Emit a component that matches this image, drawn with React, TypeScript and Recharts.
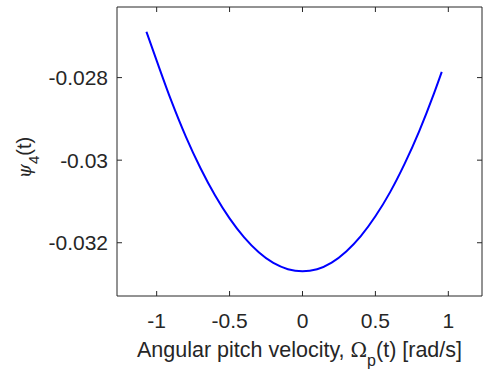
import React from 'react';
import { LineChart, Line, XAxis, YAxis, ReferenceLine } from 'recharts';

const omegaP = [-1.07, -1.0, -0.9, -0.8, -0.7, -0.6, -0.5, -0.4, -0.3, -0.2, -0.1, 0, 0.1, 0.2, 0.3, 0.4, 0.5, 0.6, 0.7, 0.8, 0.9, 0.955];
const psi4 = [-0.02689, -0.02759, -0.02856, -0.02943, -0.03019, -0.03085, -0.03141, -0.03187, -0.03223, -0.03249, -0.03264, -0.03269, -0.03264, -0.03248, -0.03221, -0.03184, -0.03136, -0.03078, -0.03009, -0.0293, -0.0284, -0.02786];
const xTicks = [-1, -0.5, 0, 0.5, 1];
const yTicks = [-0.032, -0.03, -0.028];
const xDomain = [-1.272, 1.231];
const yDomain = [-0.03329, -0.02629];

const data = omegaP.map((x, i) => ({ x, y: psi4[i] }));

const FONT = '"Liberation Sans", Arial, Helvetica, sans-serif';
const TXT = '#262626';
const AX = '#262626';
const W = 484;
const H = 373;
const M = { top: 7, right: 2, left: 0, bottom: 0 };
const Y_AXIS_W = 117;
const X_AXIS_H = 77;
const PLOT_TOP = M.top;
const PLOT_RIGHT = W - M.right;
const TICK = 5;

const XTick = (props: any) => {
  const { x, y, payload } = props;
  return (
    <g>
      <line x1={x} x2={x} y1={y} y2={y - TICK} stroke={AX} strokeWidth={1} />
      <line x1={x} x2={x} y1={PLOT_TOP} y2={PLOT_TOP + TICK} stroke={AX} strokeWidth={1} />
      <text x={x} y={y + 17} dy="0.71em" textAnchor="middle" fontFamily={FONT} fontSize={21} fill={TXT}>
        {String(payload.value)}
      </text>
    </g>
  );
};

const YTick = (props: any) => {
  const { x, y, payload } = props;
  return (
    <g>
      <line x1={x} x2={x + TICK} y1={y} y2={y} stroke={AX} strokeWidth={1} />
      <line x1={PLOT_RIGHT} x2={PLOT_RIGHT - TICK} y1={y} y2={y} stroke={AX} strokeWidth={1} />
      <text x={x - 9} y={y} dy="0.355em" textAnchor="end" fontFamily={FONT} fontSize={21} fill={TXT}>
        {String(payload.value)}
      </text>
    </g>
  );
};

const XLabel = (props: any) => {
  const vb = props.viewBox || { x: 117, y: 296, width: 365 };
  const cx = vb.x + vb.width / 2;
  const y = vb.y + 61;
  return (
    <text x={cx} y={y} textAnchor="middle" fontFamily={FONT} fontSize={21.5} fill={TXT}>
      <tspan>Angular pitch velocity, </tspan>
      <tspan fontFamily='"DejaVu Serif", serif' fontSize={20}>Ω</tspan>
      <tspan fontSize={16} dy={9}>p</tspan>
      <tspan dy={-9}>(t) [rad/s]</tspan>
    </text>
  );
};

const YLabel = (props: any) => {
  const vb = props.viewBox || { x: 0, y: 7, height: 289 };
  const cy = vb.y + vb.height / 2 + 6;
  const x = 31;
  return (
    <text x={x} y={cy} transform={`rotate(-90, ${x}, ${cy})`} textAnchor="middle" fontFamily={FONT} fontSize={20} fill={TXT}>
      <tspan fontFamily='"DejaVu Serif", serif' fontStyle="italic" fontSize={18}>ψ</tspan>
      <tspan fontSize={15} dy={8}>4</tspan>
      <tspan dy={-8}>(t)</tspan>
    </text>
  );
};

export default function App() {
  return (
    <div style={{ position: 'absolute', left: 0, top: 0, background: '#fff' }}>
      <LineChart width={W} height={H} data={data} margin={M}>
        <XAxis
          xAxisId="bottom"
          dataKey="x"
          type="number"
          domain={xDomain}
          ticks={xTicks}
          allowDataOverflow
          height={X_AXIS_H}
          stroke={AX}
          tickLine={false}
          tickSize={0}
          tickMargin={0}
          tick={XTick}
          label={{ content: XLabel }}
        />
        <YAxis
          yAxisId="left"
          type="number"
          domain={yDomain}
          ticks={yTicks}
          allowDataOverflow
          width={Y_AXIS_W}
          stroke={AX}
          tickLine={false}
          tickSize={0}
          tickMargin={0}
          tick={YTick}
          label={{ content: YLabel }}
        />
        <ReferenceLine xAxisId="bottom" yAxisId="left" y={yDomain[1]} stroke={AX} strokeWidth={1} ifOverflow="visible" />
        <ReferenceLine xAxisId="bottom" yAxisId="left" x={xDomain[1]} stroke={AX} strokeWidth={1} ifOverflow="visible" />
        <Line
          xAxisId="bottom"
          yAxisId="left"
          dataKey="y"
          type="monotone"
          stroke="#0000ff"
          strokeWidth={2}
          dot={false}
          isAnimationActive={false}
        />
      </LineChart>
    </div>
  );
}
